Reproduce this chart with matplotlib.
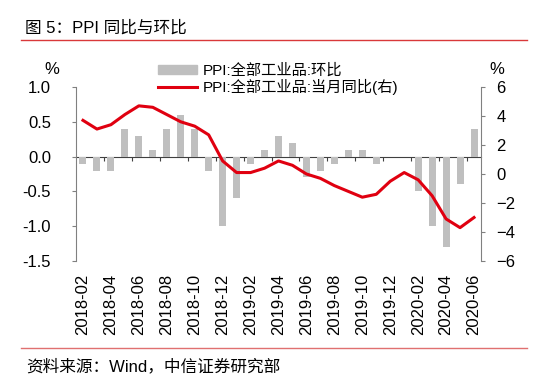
import matplotlib
matplotlib.use("Agg")
import matplotlib.pyplot as plt
from matplotlib.lines import Line2D
from matplotlib.patches import Patch

plt.rcParams['font.family'] = ['Liberation Sans', 'Noto Sans CJK SC', 'DejaVu Sans']

months = ["2018-02", "2018-03", "2018-04", "2018-05", "2018-06", "2018-07", "2018-08",
          "2018-09", "2018-10", "2018-11", "2018-12", "2019-01", "2019-02", "2019-03",
          "2019-04", "2019-05", "2019-06", "2019-07", "2019-08", "2019-09", "2019-10",
          "2019-11", "2019-12", "2020-01", "2020-02", "2020-03", "2020-04", "2020-05",
          "2020-06"]
mom = [-0.1, -0.2, -0.2, 0.4, 0.3, 0.1, 0.4, 0.6, 0.4, -0.2, -1.0, -0.6, -0.1, 0.1,
       0.3, 0.2, -0.3, -0.2, -0.1, 0.1, 0.1, -0.1, 0.0, 0.0, -0.5, -1.0, -1.3, -0.4, 0.4]
yoy = [3.7, 3.1, 3.4, 4.1, 4.7, 4.6, 4.1, 3.6, 3.3, 2.7, 0.9, 0.1, 0.1, 0.4, 0.9, 0.6,
       0.0, -0.3, -0.8, -1.2, -1.6, -1.4, -0.5, 0.1, -0.4, -1.5, -3.1, -3.7, -3.0]

left_ticks = [1.0, 0.5, 0.0, -0.5, -1.0, -1.5]
right_ticks = [6, 4, 2, 0, -2, -4, -6]

bar_color = "#BFBFBF"
line_color = "#E00010"
spine_color = "#808080"

fig = plt.figure(figsize=(5.5, 3.87), dpi=100)
ax = fig.add_axes([76 / 550, 1 - 261 / 387, 405 / 550, 174 / 387])

x = list(range(len(months)))
ax.bar(x, mom, width=0.5, color=bar_color, zorder=2)
ax.set_xlim(-0.5, len(months) - 0.5)
ax.set_ylim(-1.5, 1.0)
ax.set_yticks(left_ticks)
ax.set_yticklabels([f"{v:.1f}" for v in left_ticks])
ax.tick_params(axis="y", direction="out", length=3, pad=15, labelsize=12,
               color=spine_color)

# month labels at the bottom, every second month
ax.set_xticks(x[::2])
ax.set_xticklabels(months[::2], rotation=90)
ax.tick_params(axis="x", length=0, pad=9, labelsize=12)
for s in ["top", "right", "bottom"]:
    ax.spines[s].set_visible(False)
ax.spines["left"].set_linewidth(0.8)
ax.spines["left"].set_color(spine_color)

# zero line with ticks between months
zero = ax.secondary_xaxis(1.5 / 2.5)
zero.set_xticks([i + 1.5 for i in range(0, len(months) - 1, 2)])
zero.set_xticklabels([])
zero.tick_params(axis="x", direction="in", length=3, width=0.8, color="#404040")
zero.spines["top"].set_linewidth(0.8)
zero.spines["top"].set_color("#404040")

ax2 = ax.twinx()
ax2.plot(x, yoy, color=line_color, lw=2.2, zorder=3)
ax2.set_ylim(-6, 6)
ax2.set_yticks(right_ticks)
ax2.tick_params(axis="y", direction="out", length=3, pad=8, labelsize=12,
                color=spine_color)
for s in ["top", "left", "bottom"]:
    ax2.spines[s].set_visible(False)
ax2.spines["right"].set_linewidth(0.8)
ax2.spines["right"].set_color(spine_color)

fig.text(52 / 550, 1 - 70 / 387, "%", fontsize=12, ha="center", va="center")
fig.text(497 / 550, 1 - 70 / 387, "%", fontsize=12, ha="center", va="center")

handles = [Patch(color=bar_color), Line2D([], [], color=line_color, lw=2.2)]
labels = ["PPI:全部工业品:环比", "PPI:全部工业品:当月同比(右)"]
fig.legend(handles, labels, loc="upper left", bbox_to_anchor=(150 / 550, 1 - 56 / 387),
           frameon=False, fontsize=11, handlelength=2.6, handleheight=0.45,
           labelspacing=0.05, handletextpad=0.35, borderpad=0)

fig.text(25 / 550, 1 - 28 / 387, "图 5：PPI 同比与环比", fontsize=12, va="center")
fig.add_artist(Line2D([21 / 550, 527 / 550], [1 - 40 / 387] * 2, color="#D9383A", lw=1))
fig.add_artist(Line2D([21 / 550, 527 / 550], [1 - 348 / 387] * 2, color="#E07070", lw=1))
fig.text(26 / 550, 1 - 366 / 387, "资料来源：Wind，中信证券研究部", fontsize=12, va="center")

fig.savefig("out.png", dpi=100)
